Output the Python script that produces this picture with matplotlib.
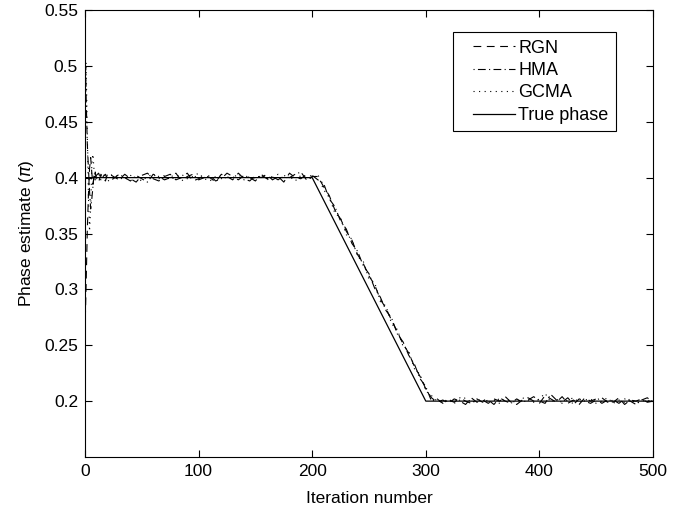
import numpy as np
import matplotlib
matplotlib.use("Agg")
import matplotlib.pyplot as plt
from matplotlib.lines import Line2D
from matplotlib.legend_handler import HandlerLine2D

plt.rcParams['font.family'] = ['Liberation Sans', 'DejaVu Sans']

# true phase (in units of pi)
true_it = [0, 200, 300, 500]
true_phase = [0.4, 0.4, 0.2, 0.2]

# iterations at which the estimates were read off
iters = list(range(0, 11)) + list(range(12, 21, 2)) + list(range(25, 501, 5))

rgn = [0.262, 0.305, 0.352, 0.384, 0.408, 0.418, 0.404, 0.394, 0.401, 0.405, 0.398,
       0.396, 0.403, 0.400, 0.397, 0.404,
       0.401, 0.398, 0.403, 0.399, 0.396, 0.402, 0.404, 0.399, 0.397, 0.401, 0.403, 0.398,
       0.400, 0.404, 0.397, 0.399, 0.402, 0.400, 0.396, 0.403, 0.401, 0.398, 0.404, 0.399,
       0.397, 0.402, 0.400, 0.403, 0.398, 0.401, 0.396, 0.404, 0.400, 0.399, 0.403, 0.401,
       0.401, 0.392, 0.384, 0.371, 0.363, 0.352, 0.344, 0.331, 0.323, 0.312,
       0.304, 0.291, 0.283, 0.272, 0.262, 0.251, 0.243, 0.231, 0.222, 0.211,
       0.203, 0.199, 0.201, 0.198, 0.202, 0.200, 0.197, 0.203, 0.199, 0.201,
       0.198, 0.202, 0.200, 0.204, 0.199, 0.197, 0.201, 0.203, 0.200, 0.198,
       0.205, 0.202, 0.199, 0.204, 0.198, 0.201, 0.197, 0.203, 0.200, 0.202,
       0.198, 0.201, 0.199, 0.203, 0.197, 0.201, 0.200, 0.202, 0.199, 0.200]

hma = [0.520, 0.472, 0.431, 0.409, 0.388, 0.372, 0.381, 0.392, 0.403, 0.399, 0.402,
       0.404, 0.398, 0.401, 0.403, 0.397,
       0.399, 0.403, 0.400, 0.397, 0.402, 0.399, 0.396, 0.403, 0.401, 0.398, 0.400, 0.404,
       0.397, 0.401, 0.403, 0.398, 0.400, 0.402, 0.397, 0.399, 0.404, 0.401, 0.398, 0.402,
       0.400, 0.397, 0.403, 0.399, 0.401, 0.398, 0.402, 0.400, 0.403, 0.405, 0.398, 0.402,
       0.398, 0.395, 0.381, 0.374, 0.361, 0.354, 0.341, 0.334, 0.321, 0.314,
       0.301, 0.293, 0.281, 0.274, 0.260, 0.253, 0.241, 0.233, 0.220, 0.213,
       0.200, 0.202, 0.198, 0.201, 0.199, 0.203, 0.200, 0.198, 0.202, 0.199,
       0.201, 0.197, 0.203, 0.200, 0.198, 0.202, 0.199, 0.201, 0.204, 0.200,
       0.198, 0.206, 0.201, 0.199, 0.203, 0.197, 0.202, 0.200, 0.198, 0.201,
       0.203, 0.199, 0.201, 0.198, 0.202, 0.200, 0.197, 0.201, 0.203, 0.199]

gcma = [0.452, 0.503, 0.441, 0.384, 0.352, 0.373, 0.412, 0.421, 0.406, 0.398, 0.401,
        0.399, 0.401, 0.404, 0.399, 0.401,
        0.403, 0.400, 0.398, 0.402, 0.400, 0.397, 0.401, 0.403, 0.399, 0.402, 0.398, 0.401,
        0.403, 0.399, 0.401, 0.404, 0.399, 0.397, 0.401, 0.402, 0.399, 0.400, 0.403, 0.398,
        0.401, 0.399, 0.402, 0.398, 0.400, 0.403, 0.399, 0.401, 0.397, 0.402, 0.400, 0.399,
        0.403, 0.389, 0.383, 0.368, 0.364, 0.349, 0.345, 0.329, 0.325, 0.309,
        0.306, 0.289, 0.285, 0.269, 0.264, 0.249, 0.245, 0.229, 0.224, 0.209,
        0.205, 0.200, 0.199, 0.202, 0.198, 0.201, 0.203, 0.199, 0.200, 0.202,
        0.199, 0.201, 0.198, 0.202, 0.200, 0.199, 0.203, 0.201, 0.199, 0.202,
        0.207, 0.199, 0.202, 0.198, 0.201, 0.203, 0.199, 0.201, 0.202, 0.198,
        0.200, 0.203, 0.198, 0.201, 0.199, 0.202, 0.198, 0.200, 0.201, 0.199]

fig = plt.figure(figsize=(6.79, 5.08), dpi=100)
ax = fig.add_axes([85 / 679, 51 / 508, 568 / 679, 447 / 508])

ax.plot(iters, rgn, color='black', lw=0.8, ls=(0, (7, 5)), label='RGN')
ax.plot(iters, hma, color='black', lw=0.8, ls=(0, (1, 3, 7, 3)), label='HMA')
ax.plot(iters, gcma, color='black', lw=0.8, ls=(0, (1, 4)), label='GCMA')
ax.plot(true_it, true_phase, color='black', lw=0.9, label='True phase')

ax.set_xlim(0, 500)
ax.set_ylim(0.15, 0.55)
ax.set_xticks([0, 100, 200, 300, 400, 500])
ax.set_yticks([0.2, 0.25, 0.3, 0.35, 0.4, 0.45, 0.5, 0.55])
ax.set_yticklabels(['0.2', '0.25', '0.3', '0.35', '0.4', '0.45', '0.5', '0.55'])
ax.tick_params(direction='in', top=True, right=True, labelsize=12.5, length=5, pad=5)
for s in ax.spines.values():
    s.set_linewidth(0.8)

ax.set_xlabel('Iteration number', fontsize=12.5, labelpad=9)
ax.set_ylabel(r'Phase estimate ($\pi$)', fontsize=12.5, labelpad=6)

# wide left margin inside the legend box, like the MATLAB legend
leg = ax.legend(loc='upper right', bbox_to_anchor=(616 / 679, 1 - 32 / 508),
                bbox_transform=fig.transFigure, borderaxespad=0, fontsize=13,
                fancybox=False, framealpha=1, edgecolor='black', handlelength=3.0,
                handletextpad=0.2, labelspacing=0.3, borderpad=0.42,
                handler_map={Line2D: HandlerLine2D(xpad=0.7)})
leg.get_frame().set_linewidth(0.8)

fig.savefig('out.png', dpi=100)
